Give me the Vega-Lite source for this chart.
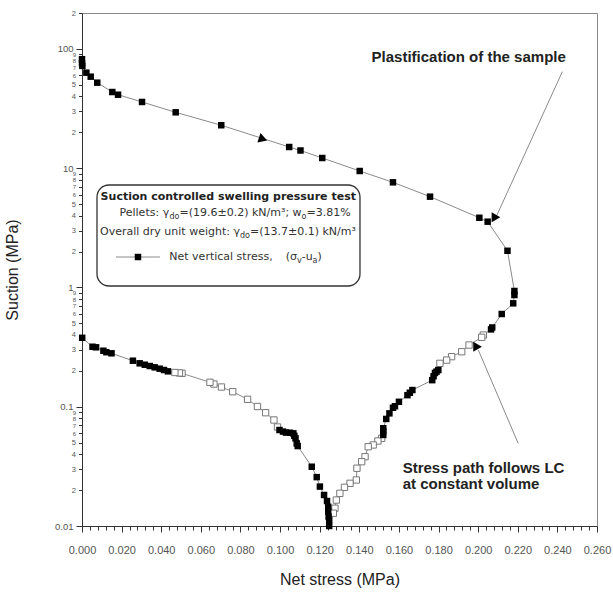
{
  "$schema": "https://vega.github.io/schema/vega-lite/v6.json",
  "autosize": {"type": "none"},
  "padding": {"left": 82, "top": 13, "right": 16, "bottom": 69},
  "width": 515,
  "height": 513,
  "background": "white",
  "config": {"view": {"stroke": "#888888", "strokeWidth": 1}},
  "datasets": {
    "curve": [
      {"i": 1, "s": 0.0, "psi": 82, "f": "filled"},
      {"i": 2, "s": 0.0, "psi": 76, "f": "filled"},
      {"i": 3, "s": 0.0002, "psi": 72, "f": "filled"},
      {"i": 4, "s": 0.0022, "psi": 63.2, "f": "filled"},
      {"i": 5, "s": 0.0044, "psi": 58.5, "f": "filled"},
      {"i": 6, "s": 0.0077, "psi": 52.1, "f": "filled"},
      {"i": 7, "s": 0.0153, "psi": 43.5, "f": "filled"},
      {"i": 8, "s": 0.0182, "psi": 41.3, "f": "filled"},
      {"i": 9, "s": 0.0303, "psi": 35.9, "f": "filled"},
      {"i": 10, "s": 0.0473, "psi": 29.4, "f": "filled"},
      {"i": 11, "s": 0.0703, "psi": 22.9, "f": "filled"},
      {"i": 12, "s": 0.1046, "psi": 15.05, "f": "filled"},
      {"i": 13, "s": 0.1103, "psi": 14.07, "f": "filled"},
      {"i": 14, "s": 0.1213, "psi": 12.17, "f": "filled"},
      {"i": 15, "s": 0.1402, "psi": 9.47, "f": "filled"},
      {"i": 16, "s": 0.157, "psi": 7.61, "f": "filled"},
      {"i": 17, "s": 0.1757, "psi": 5.77, "f": "filled"},
      {"i": 18, "s": 0.2006, "psi": 3.84, "f": "filled"},
      {"i": 19, "s": 0.2048, "psi": 3.56, "f": "filled"},
      {"i": 20, "s": 0.2148, "psi": 2.03, "f": "filled"},
      {"i": 21, "s": 0.2183, "psi": 0.934, "f": "filled"},
      {"i": 22, "s": 0.2183, "psi": 0.864, "f": "filled"},
      {"i": 23, "s": 0.2177, "psi": 0.736, "f": "filled"},
      {"i": 24, "s": 0.2119, "psi": 0.599, "f": "filled"},
      {"i": 25, "s": 0.2071, "psi": 0.462, "f": "filled"},
      {"i": 26, "s": 0.2065, "psi": 0.445, "f": "filled"},
      {"i": 27, "s": 0.2026, "psi": 0.399, "f": "open"},
      {"i": 28, "s": 0.2018, "psi": 0.382, "f": "open"},
      {"i": 29, "s": 0.1954, "psi": 0.329, "f": "open"},
      {"i": 30, "s": 0.1917, "psi": 0.289, "f": "open"},
      {"i": 31, "s": 0.1866, "psi": 0.263, "f": "open"},
      {"i": 32, "s": 0.1841, "psi": 0.246, "f": "open"},
      {"i": 33, "s": 0.1807, "psi": 0.231, "f": "open"},
      {"i": 34, "s": 0.1799, "psi": 0.203, "f": "filled"},
      {"i": 35, "s": 0.179, "psi": 0.197, "f": "filled"},
      {"i": 36, "s": 0.1782, "psi": 0.192, "f": "filled"},
      {"i": 37, "s": 0.1775, "psi": 0.18, "f": "filled"},
      {"i": 38, "s": 0.1768, "psi": 0.167, "f": "filled"},
      {"i": 39, "s": 0.1668, "psi": 0.138, "f": "filled"},
      {"i": 40, "s": 0.1655, "psi": 0.131, "f": "filled"},
      {"i": 41, "s": 0.1643, "psi": 0.125, "f": "filled"},
      {"i": 42, "s": 0.16, "psi": 0.11, "f": "filled"},
      {"i": 43, "s": 0.158, "psi": 0.101, "f": "filled"},
      {"i": 44, "s": 0.157, "psi": 0.098, "f": "filled"},
      {"i": 45, "s": 0.1552, "psi": 0.088, "f": "filled"},
      {"i": 46, "s": 0.1536, "psi": 0.079, "f": "filled"},
      {"i": 47, "s": 0.1521, "psi": 0.066, "f": "filled"},
      {"i": 48, "s": 0.1521, "psi": 0.062, "f": "filled"},
      {"i": 49, "s": 0.1521, "psi": 0.058, "f": "filled"},
      {"i": 50, "s": 0.1513, "psi": 0.0543, "f": "open"},
      {"i": 51, "s": 0.1494, "psi": 0.0516, "f": "open"},
      {"i": 52, "s": 0.147, "psi": 0.0478, "f": "open"},
      {"i": 53, "s": 0.1445, "psi": 0.0462, "f": "open"},
      {"i": 54, "s": 0.1429, "psi": 0.0381, "f": "open"},
      {"i": 55, "s": 0.1412, "psi": 0.0346, "f": "open"},
      {"i": 56, "s": 0.1388, "psi": 0.0305, "f": "open"},
      {"i": 57, "s": 0.1385, "psi": 0.0243, "f": "open"},
      {"i": 58, "s": 0.1353, "psi": 0.0228, "f": "open"},
      {"i": 59, "s": 0.1325, "psi": 0.0211, "f": "open"},
      {"i": 60, "s": 0.1302, "psi": 0.0188, "f": "open"},
      {"i": 61, "s": 0.1284, "psi": 0.0165, "f": "open"},
      {"i": 62, "s": 0.1277, "psi": 0.0141, "f": "open"},
      {"i": 63, "s": 0.1269, "psi": 0.0128, "f": "open"},
      {"i": 64, "s": 0.1248, "psi": 0.01, "f": "filled"},
      {"i": 65, "s": 0.1248, "psi": 0.0112, "f": "filled"},
      {"i": 66, "s": 0.1245, "psi": 0.012, "f": "filled"},
      {"i": 67, "s": 0.1243, "psi": 0.0132, "f": "filled"},
      {"i": 68, "s": 0.1243, "psi": 0.0145, "f": "filled"},
      {"i": 69, "s": 0.1237, "psi": 0.0162, "f": "filled"},
      {"i": 70, "s": 0.1222, "psi": 0.0182, "f": "filled"},
      {"i": 71, "s": 0.1201, "psi": 0.0214, "f": "filled"},
      {"i": 72, "s": 0.1185, "psi": 0.0257, "f": "filled"},
      {"i": 73, "s": 0.116, "psi": 0.0314, "f": "filled"},
      {"i": 74, "s": 0.1089, "psi": 0.0468, "f": "filled"},
      {"i": 75, "s": 0.1084, "psi": 0.0493, "f": "filled"},
      {"i": 76, "s": 0.1078, "psi": 0.0543, "f": "filled"},
      {"i": 77, "s": 0.1072, "psi": 0.057, "f": "filled"},
      {"i": 78, "s": 0.1067, "psi": 0.0598, "f": "filled"},
      {"i": 79, "s": 0.105, "psi": 0.0605, "f": "filled"},
      {"i": 80, "s": 0.103, "psi": 0.0607, "f": "filled"},
      {"i": 81, "s": 0.1015, "psi": 0.0619, "f": "filled"},
      {"i": 82, "s": 0.0997, "psi": 0.0638, "f": "filled"},
      {"i": 83, "s": 0.0987, "psi": 0.0676, "f": "open"},
      {"i": 84, "s": 0.0969, "psi": 0.0774, "f": "open"},
      {"i": 85, "s": 0.0927, "psi": 0.0891, "f": "open"},
      {"i": 86, "s": 0.0886, "psi": 0.1004, "f": "open"},
      {"i": 87, "s": 0.0836, "psi": 0.1154, "f": "open"},
      {"i": 88, "s": 0.0761, "psi": 0.1336, "f": "open"},
      {"i": 89, "s": 0.0704, "psi": 0.1463, "f": "open"},
      {"i": 90, "s": 0.0666, "psi": 0.155, "f": "open"},
      {"i": 91, "s": 0.0646, "psi": 0.1602, "f": "open"},
      {"i": 92, "s": 0.0505, "psi": 0.1906, "f": "open"},
      {"i": 93, "s": 0.0492, "psi": 0.192, "f": "open"},
      {"i": 94, "s": 0.0469, "psi": 0.1936, "f": "open"},
      {"i": 95, "s": 0.0434, "psi": 0.198, "f": "filled"},
      {"i": 96, "s": 0.0414, "psi": 0.2032, "f": "filled"},
      {"i": 97, "s": 0.0392, "psi": 0.2084, "f": "filled"},
      {"i": 98, "s": 0.0367, "psi": 0.214, "f": "filled"},
      {"i": 99, "s": 0.0342, "psi": 0.2194, "f": "filled"},
      {"i": 100, "s": 0.0317, "psi": 0.225, "f": "filled"},
      {"i": 101, "s": 0.0291, "psi": 0.2312, "f": "filled"},
      {"i": 102, "s": 0.0257, "psi": 0.2431, "f": "filled"},
      {"i": 103, "s": 0.0149, "psi": 0.2805, "f": "filled"},
      {"i": 104, "s": 0.0123, "psi": 0.2865, "f": "filled"},
      {"i": 105, "s": 0.0108, "psi": 0.2948, "f": "filled"},
      {"i": 106, "s": 0.0071, "psi": 0.3149, "f": "filled"},
      {"i": 107, "s": 0.0053, "psi": 0.3184, "f": "filled"},
      {"i": 108, "s": 0.0001, "psi": 0.3783, "f": "filled"}
    ],
    "box": [{"s": 0.00757, "s2": 0.14034, "psi": 7.23, "psi2": 1.028}],
    "leaders": [
      {"s": 0.2425, "psi": 64.4, "s2": 0.2095, "psi2": 4.05},
      {"s": 0.2202, "psi": 0.0493, "s2": 0.2001, "psi2": 0.2988}
    ],
    "pathArrow": [{"s": 0.0914, "psi": 17.5}],
    "noteArrows": [{"s": 0.209, "psi": 3.87}, {"s": 0.1997, "psi": 0.318}],
    "legLine": [{"s": 0.01716, "psi": 1.8}, {"s": 0.03937, "psi": 1.8}],
    "legPoint": [{"s": 0.02827, "psi": 1.8}],
    "notes": [
      {"s": 0.1462, "psi": 85.0, "t": "Plastification of the sample"},
      {"s": 0.1619, "psi": 0.0308, "t": "Stress path follows LC"},
      {"s": 0.1619, "psi": 0.02236, "t": "at constant volume"}
    ],
    "boxTitle": [{"s": 0.07385, "psi": 5.73, "t": "Suction controlled swelling pressure test"}],
    "boxText": [
      {"s": 0.01893, "psi": 4.18, "t": "Pellets: γ"},
      {"s": 0.04922, "psi": 4.18, "t": "=(19.6±0.2) kN/m³; w"},
      {"s": 0.11333, "psi": 4.18, "t": "=3.81%"},
      {"s": 0.00909, "psi": 2.916, "t": "Overall dry unit weight: γ"},
      {"s": 0.08481, "psi": 2.916, "t": "=(13.7±0.1) kN/m³"},
      {"s": 0.04407, "psi": 1.8, "t": "Net vertical stress,"},
      {"s": 0.10283, "psi": 1.8, "t": "(σ"},
      {"s": 0.1109, "psi": 1.8, "t": "-u"},
      {"s": 0.11888, "psi": 1.8, "t": ")"}
    ],
    "boxSub": [
      {"s": 0.04417, "psi": 4.18, "t": "do"},
      {"s": 0.1108, "psi": 4.18, "t": "o"},
      {"s": 0.07976, "psi": 2.916, "t": "do"},
      {"s": 0.10853, "psi": 1.8, "t": "v"},
      {"s": 0.1164, "psi": 1.8, "t": "a"}
    ]
  },
  "encoding": {
    "x": {
      "field": "s",
      "type": "quantitative",
      "scale": {"domain": [0, 0.26], "nice": false, "zero": false},
      "axis": {
        "title": "Net stress (MPa)",
        "values": [0,0.004,0.008,0.012,0.016,0.02,0.024,0.028,0.032,0.036,0.04,0.044,0.048,0.052,0.056,0.06,0.064,0.068,0.072,0.076,0.08,0.084,0.088,0.092,0.096,0.1,0.104,0.108,0.112,0.116,0.12,0.124,0.128,0.132,0.136,0.14,0.144,0.148,0.152,0.156,0.16,0.164,0.168,0.172,0.176,0.18,0.184,0.188,0.192,0.196,0.2,0.204,0.208,0.212,0.216,0.22,0.224,0.228,0.232,0.236,0.24,0.244,0.248,0.252,0.256,0.26],
        "labelExpr": "abs(datum.value/0.02 - round(datum.value/0.02)) < 0.01 ? format(datum.value, '.3f') : ''",
        "labelOverlap": false,
        "labelFlush": false,
        "labelFont": "Liberation Sans",
        "labelFontSize": 11,
        "labelColor": "#555555",
        "labelPadding": 12,
        "tickSize": {"condition": {"test": "abs(datum.value/0.02 - round(datum.value/0.02)) < 0.01", "value": 6}, "value": 4},
        "tickColor": "#333333",
        "domainColor": "#333333",
        "grid": false,
        "titleFont": "Liberation Sans",
        "titleFontSize": 16,
        "titleFontWeight": "normal",
        "titleColor": "#222222",
        "titlePadding": 16
      }
    },
    "y": {
      "field": "psi",
      "type": "quantitative",
      "scale": {"type": "log", "domain": [0.01, 200], "nice": false},
      "axis": {
        "title": "Suction (MPa)",
        "values": [0.01,0.02,0.03,0.04,0.05,0.06,0.07,0.08,0.09,0.1,0.2,0.3,0.4,0.5,0.6,0.7,0.8,0.9,1,2,3,4,5,6,7,8,9,10,20,30,40,50,60,70,80,90,100,200],
        "labelExpr": "(abs(log(datum.value)/LN10 - round(log(datum.value)/LN10)) < 0.001) ? format(datum.value, '~g') + '\u00a0\u00a0\u00a0\u00a0' : format(round(datum.value / pow(10, floor(log(datum.value)/LN10 + 0.001))), 'd')",
        "labelOverlap": false,
        "labelFont": "Liberation Sans",
        "labelFontSize": {"condition": [
          {"test": "abs(log(datum.value)/LN10 - round(log(datum.value)/LN10)) < 0.001", "value": 9.5},
          {"test": "datum.value / pow(10, floor(log(datum.value)/LN10 + 0.001)) < 5.5", "value": 7.5}
        ], "value": 6},
        "labelColor": "#555555",
        "labelPadding": 3,
        "tickSize": {"condition": {"test": "abs(log(datum.value)/LN10 - round(log(datum.value)/LN10)) < 0.001", "value": 6}, "value": 3.5},
        "tickColor": "#333333",
        "domainColor": "#333333",
        "grid": false,
        "titleFont": "Liberation Sans",
        "titleFontSize": 16,
        "titleFontWeight": "normal",
        "titleColor": "#222222",
        "titlePadding": 34
      }
    }
  },
  "layer": [
    {
      "data": {"name": "box"},
      "mark": {"type": "rect", "cornerRadius": 12, "fill": "white", "stroke": "#333333", "strokeWidth": 1.3},
      "encoding": {"x2": {"field": "s2"}, "y2": {"field": "psi2"}}
    },
    {
      "data": {"name": "leaders"},
      "mark": {"type": "rule", "color": "#8a8a8a", "strokeWidth": 1},
      "encoding": {"x2": {"field": "s2"}, "y2": {"field": "psi2"}}
    },
    {
      "data": {"name": "curve"},
      "mark": {"type": "line", "color": "#8a8a8a", "strokeWidth": 1},
      "encoding": {"order": {"field": "i", "type": "quantitative"}}
    },
    {
      "data": {"name": "curve"},
      "transform": [{"filter": "datum.f == 'open'"}],
      "mark": {"type": "point", "shape": "square", "fill": "white", "stroke": "#777777", "strokeWidth": 1, "size": 40, "opacity": 1},
      "encoding": {}
    },
    {
      "data": {"name": "curve"},
      "transform": [{"filter": "datum.f == 'filled'"}],
      "mark": {"type": "point", "shape": "square", "filled": true, "color": "#000000", "size": 42, "opacity": 1},
      "encoding": {}
    },
    {
      "data": {"name": "pathArrow"},
      "mark": {"type": "point", "shape": "triangle-right", "filled": true, "color": "#000000", "size": 100, "opacity": 1, "angle": 18},
      "encoding": {}
    },
    {
      "data": {"name": "noteArrows"},
      "mark": {"type": "point", "shape": "triangle-right", "filled": true, "color": "#000000", "size": 100, "opacity": 1},
      "encoding": {}
    },
    {
      "data": {"name": "legLine"},
      "mark": {"type": "line", "color": "#8a8a8a", "strokeWidth": 1},
      "encoding": {}
    },
    {
      "data": {"name": "legPoint"},
      "mark": {"type": "point", "shape": "square", "filled": true, "color": "#000000", "size": 42, "opacity": 1},
      "encoding": {}
    },
    {
      "data": {"name": "notes"},
      "mark": {"type": "text", "font": "Liberation Sans", "fontSize": 15, "fontWeight": "bold", "align": "left", "baseline": "middle", "color": "#222222"},
      "encoding": {"text": {"field": "t"}}
    },
    {
      "data": {"name": "boxTitle"},
      "mark": {"type": "text", "font": "DejaVu Sans", "fontSize": 11, "fontWeight": "bold", "align": "center", "baseline": "middle", "color": "#222222"},
      "encoding": {"text": {"field": "t"}}
    },
    {
      "data": {"name": "boxText"},
      "mark": {"type": "text", "font": "DejaVu Sans", "fontSize": 11, "align": "left", "baseline": "middle", "color": "#333333"},
      "encoding": {"text": {"field": "t"}}
    },
    {
      "data": {"name": "boxSub"},
      "mark": {"type": "text", "font": "DejaVu Sans", "fontSize": 8, "align": "left", "baseline": "middle", "dy": 3.5, "color": "#333333"},
      "encoding": {"text": {"field": "t"}}
    }
  ]
}
